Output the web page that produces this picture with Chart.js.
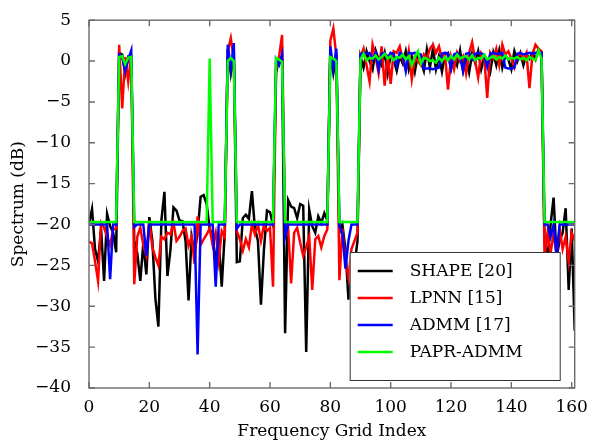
<!DOCTYPE html>
<html>
<head>
<meta charset="utf-8">
<script src="https://cdn.jsdelivr.net/npm/chart.js@4.4.1/dist/chart.umd.min.js"></script>
<style>
  html, body { margin: 0; padding: 0; background: #fff; }
</style>
</head>
<body>
<canvas id="spectrumChart" width="589" height="447"></canvas>
<script>
// frequency grid index 0..161
const gridIndex = Array.from({ length: 162 }, (_, i) => i);

const seriesNames = ['SHAPE [20]', 'LPNN [15]', 'ADMM [17]', 'PAPR-ADMM'];

// SHAPE [20]
const shape = [
  -19.9, -18.1, -23.0, -24.5, -20.5, -26.9, -18.7, -20.2, -21.0, -23.4,
  1.0, 0.8, -1.5, 0.5, 0.3,
  -22.0, -23.5, -26.9, -22.3, -26.1,
  -19.1, -22.0, -29.0, -32.5, -19.5, -16.0, -26.3, -23.1, -17.9, -18.3,
  -19.5, -19.6, -22.0, -29.3, -21.5, -23.5, -21.0, -16.6, -16.4, -17.5,
  -20.5, -21.5, -24.5, -22.0, -27.6, -21.0,
  1.5, -1.5, 1.0,
  -24.6, -24.5, -19.2, -18.8, -19.3, -15.9, -20.5, -22.0, -29.8, -23.0, -18.3, -18.5, -20.0,
  -1.5, 0.5, 0.3,
  -33.3, -17.0, -17.8, -18.0, -19.2, -17.5, -17.7, -35.6, -18.2, -20.2, -21.0, -19.0, -19.8, -18.6, -19.5,
  1.2, -1.5, 0.8,
  -21.0, -20.0, -23.0, -29.2, -26.0, -25.0, -22.0,
  0.5, -0.8, 1.2, 0.0, -1.0, 1.3, 0.2, -0.5, 1.0, -1.5,
  0.8, 0.2, -1.2, 0.6, -0.3, 1.2, -1.0, 0.5, -1.3, 0.8,
  0.0, -1.2, 1.4, -0.8, 1.5, -1.0, 0.6, -1.3, 0.8, 1.0,
  -1.0, 0.5, -0.5, 1.3, -1.2, 0.3, -1.4, 0.9, -0.2, 1.2,
  -1.0, 0.5, 0.0, -1.3, 1.0, -0.5, 1.3, -0.8, 0.7, 0.2,
  -1.0, 1.2, 0.0, 1.0, -0.5, 0.8, 0.3, 1.0, 0.2, 1.5,
  1.0,
  -22.0, -24.0, -20.0, -16.7, -24.0, -22.0, -21.0, -18.0, -28.0, -20.5, -33.0
];

// LPNN [15]
const lpnn = [
  -22.1, -22.3, -24.5, -26.9, -19.8, -20.4, -21.5, -22.5, -20.6, -20.5,
  2.0, -5.8, 0.5, -2.5, 0.8,
  -27.3, -21.5, -20.4, -22.5, -23.8, -19.5, -22.8, -24.0, -25.0, -21.5, -21.8, -21.0, -21.2, -19.8, -22.0,
  -21.5, -20.8, -20.5, -22.6, -21.5, -24.8, -19.0, -22.5, -21.8, -21.2,
  -20.5, -22.5, -21.0, -24.4, -20.8, -21.5,
  1.2, 2.8, 0.2,
  -20.8, -21.8, -23.2, -21.8, -22.8, -20.0, -21.2, -20.0, -22.0, -20.0, -20.8, -20.4, -27.6,
  -1.0, 0.5, 3.2,
  -20.8, -20.4, -27.2, -21.0, -20.4, -22.2, -23.8, -22.8, -21.5, -28.0, -21.8, -21.4, -22.8, -21.4, -20.6,
  2.5, 4.0, 0.5,
  -26.8, -20.5, -24.5, -26.5, -23.0, -22.0, -21.0,
  0.5, 1.5, -0.5, -2.5, 2.0, 0.5, -1.5, 1.8, -3.0, 0.8,
  -2.8, 1.2, 1.0, 1.8, 0.2, -1.0, 1.2, -2.2, 0.5, 0.0,
  -0.5, 0.8, 0.3, 1.5, 2.0, 1.0, 1.8, 0.3, 0.8, -3.5,
  0.5, -1.0, 1.0, 0.0, 0.6, -1.5, 1.0, 2.3, 0.0, -2.0,
  1.0, 0.5, -4.5, 1.0, 0.3, 1.5, -0.5, 2.0, 0.8, 1.2,
  0.3, -0.8, 0.5, 1.0, 0.2, 1.0, -3.3, 0.8, 2.0, 1.5,
  1.2,
  -24.0, -21.0, -23.5, -21.0, -23.8, -20.5, -23.0, -21.5, -24.5, -21.0, -22.0
];

// ADMM [17]
const admm = [
  -20.0, -20.0, -20.0, -20.0, -20.0, -20.0, -20.0, -26.7, -20.0, -20.0,
  0.8, 0.5, -1.2, 0.2, 1.3,
  -20.3, -20.0, -20.0, -20.0, -23.8, -20.0, -20.0, -20.0, -20.0, -20.0,
  -20.0, -20.0, -20.0, -20.0, -20.0, -20.0, -20.0, -20.0, -20.0, -20.0,
  -20.0, -35.9, -20.0, -20.0, -20.0,
  -20.0, -20.0, -27.6, -20.0, -20.0, -20.0,
  2.0, -1.0, 2.2,
  -20.5, -20.0, -20.0, -20.0, -20.0, -20.0, -20.0, -20.0, -20.0, -20.0, -20.0, -20.0, -20.0,
  0.2, -0.5, 0.8,
  -21.5, -20.0, -20.0, -20.0, -20.0, -20.0, -20.0, -20.0, -20.0, -20.0, -20.0, -20.0, -20.0, -20.0, -20.0,
  1.8, -1.0, 1.5,
  -20.2, -21.0, -25.4, -22.0, -20.0, -20.0, -20.0,
  0.8, 1.0, 0.9, 1.0, 0.2, 1.0, -1.0, 0.9, 1.0, 0.4,
  1.0, 0.9, -0.6, 1.0, 0.8, -1.2, 1.0, 0.9, 1.0, 0.9,
  0.8, -0.9, -0.9, -0.9, -1.0, -0.9, -0.8, 0.9, 1.0, 0.9,
  -0.9, 0.8, 1.0, 0.5, -1.2, 0.9, 1.0, 0.2, 0.9, 1.0,
  0.9, 0.8, -0.7, 0.9, 1.0, 0.9, 0.9, 1.0, -0.8, -0.9,
  -0.9, -0.8, 0.9, 1.0, 0.8, 0.9, 1.0, 0.9, 1.0, 0.9,
  1.0,
  -20.0, -20.0, -21.5, -20.0, -23.8, -20.0, -20.0, -20.0, -20.0, -20.0, -20.0
];

// PAPR-ADMM
const paprAdmm = [
  -19.7, -19.7, -19.7, -19.7, -19.7, -19.7, -19.7, -19.7, -19.7, -19.7,
  0.5, 0.6, -0.4, 0.4, 0.5,
  -19.7, -19.7, -19.7, -19.7, -19.7, -19.7, -19.7, -19.7, -19.7, -19.7,
  -19.7, -19.7, -19.7, -19.7, -19.7, -19.7, -19.7, -19.7, -19.7, -19.7,
  -19.7, -19.7, -19.7, -19.7, -19.7,
  0.3,
  -19.7, -19.7, -19.7, -19.7, -19.7,
  0.0, 0.4, 0.0,
  -19.7, -19.7, -19.7, -19.7, -19.7, -19.7, -19.7, -19.7, -19.7, -19.7, -19.7, -19.7, -19.7,
  0.4, 0.2, -0.1,
  -19.7, -19.7, -19.7, -19.7, -19.7, -19.7, -19.7, -19.7, -19.7, -19.7, -19.7, -19.7, -19.7, -19.7, -19.7,
  0.5, 0.3, 0.0,
  -19.7, -19.7, -19.7, -19.7, -19.7, -19.7, -19.7,
  0.2, 0.9, 0.1, 0.4, 0.3, 0.7, 0.2, 0.5, 0.9, 0.3,
  0.6, 0.1, 0.5, 0.4, 0.8, 0.2, 0.6, -0.5, 0.5, 1.2,
  -0.3, 0.4, 0.3, 0.0, 0.1, -0.2, 0.4, 0.0, 0.5, 0.1,
  0.6, 0.2, 0.8, 0.3, 0.5, 0.6, 0.2, 0.7, 0.1, 0.4,
  0.3, 0.8, 0.2, 0.4, 0.6, 0.2, 0.5, 0.3, 0.7, 0.2,
  0.4, 0.3, 0.5, 0.2, 0.4, 0.1, 0.5, 0.3, 0.1, 1.3,
  0.3,
  -19.7, -19.7, -19.7, -19.7, -19.7, -19.7, -19.7, -19.7, -19.7, -19.7, -19.7
];

const xTicksStep = 20;
const yTicksStep = 5;

const serif = 'DejaVu Serif';

// Frame with inward ticks (pgfplots style)
const frameTicks = {
  id: 'frameTicks',
  afterDatasetsDraw(chart) {
    const { ctx, chartArea: a, scales } = chart;
    const len = 6;
    ctx.save();
    ctx.strokeStyle = '#6b6b6b';
    ctx.lineWidth = 1.4;
    ctx.strokeRect(a.left, a.top, a.right - a.left, a.bottom - a.top);
    ctx.beginPath();
    scales.x.ticks.forEach(t => {
      const px = scales.x.getPixelForValue(t.value);
      ctx.moveTo(px, a.bottom); ctx.lineTo(px, a.bottom - len);
      ctx.moveTo(px, a.top); ctx.lineTo(px, a.top + len);
    });
    scales.y.ticks.forEach(t => {
      const py = scales.y.getPixelForValue(t.value);
      ctx.moveTo(a.left, py); ctx.lineTo(a.left + len, py);
      ctx.moveTo(a.right, py); ctx.lineTo(a.right - len, py);
    });
    ctx.stroke();
    ctx.restore();
  }
};

// Legend drawn inside the plot, bottom right
const insideLegend = {
  id: 'insideLegend',
  afterDraw(chart) {
    const { ctx, chartArea: a } = chart;
    const w = 210, h = 128;
    const x = a.right - 15 - w;
    const y = a.bottom - 8 - h;
    ctx.save();
    ctx.fillStyle = '#fff';
    ctx.fillRect(x, y, w, h);
    ctx.strokeStyle = '#333';
    ctx.lineWidth = 1;
    ctx.strokeRect(x + 0.5, y + 0.5, w, h);
    ctx.font = '17px "' + serif + '"';
    ctx.textBaseline = 'middle';
    ctx.fillStyle = '#000';
    chart.data.datasets.forEach((ds, i) => {
      const ry = y + 19 + i * 27;
      ctx.strokeStyle = ds.borderColor;
      ctx.lineWidth = 2.6;
      ctx.beginPath();
      ctx.moveTo(x + 8, ry);
      ctx.lineTo(x + 43, ry);
      ctx.stroke();
      ctx.fillText(ds.label, x + 60, ry + 1);
    });
    ctx.restore();
  }
};

const colors = ['#000000', '#ff0000', '#0000ff', '#00ff00'];
const values = [shape, lpnn, admm, paprAdmm];

new Chart(document.getElementById('spectrumChart').getContext('2d'), {
  type: 'line',
  data: {
    labels: gridIndex,
    datasets: seriesNames.map((name, i) => ({
      label: name,
      data: values[i],
      borderColor: colors[i],
      backgroundColor: colors[i],
      borderWidth: 2.5,
      pointRadius: 0,
      tension: 0,
      fill: false,
      order: 3 - i
    }))
  },
  options: {
    responsive: false,
    animation: false,
    layout: { padding: { top: 12, right: 14, left: 0, bottom: 0 } },
    plugins: {
      legend: { display: false },
      tooltip: { enabled: false }
    },
    scales: {
      x: {
        type: 'linear',
        min: 0,
        max: 161,
        grid: { display: false },
        border: { display: false },
        ticks: {
          stepSize: xTicksStep,
          includeBounds: false,
          autoSkip: false,
          maxRotation: 0,
          padding: 1,
          color: '#000',
          font: { family: serif, size: 17 }
        },
        title: {
          display: true,
          text: 'Frequency Grid Index',
          color: '#000',
          font: { family: serif, size: 17 },
          padding: { top: 4, bottom: 5 }
        },
        afterFit(scale) { scale.height = 59; }
      },
      y: {
        min: -40,
        max: 5,
        grid: { display: false },
        border: { display: false },
        ticks: {
          stepSize: yTicksStep,
          padding: 10,
          color: '#000',
          font: { family: serif, size: 17 },
          callback: v => String(v).replace('-', '\u2212')
        },
        title: {
          display: true,
          text: 'Spectrum (dB)',
          color: '#000',
          font: { family: serif, size: 17 },
          padding: { top: 8, bottom: 4 }
        },
        afterFit(scale) { scale.width = 89; }
      }
    }
  },
  plugins: [frameTicks, insideLegend]
});
</script>
</body>
</html>
